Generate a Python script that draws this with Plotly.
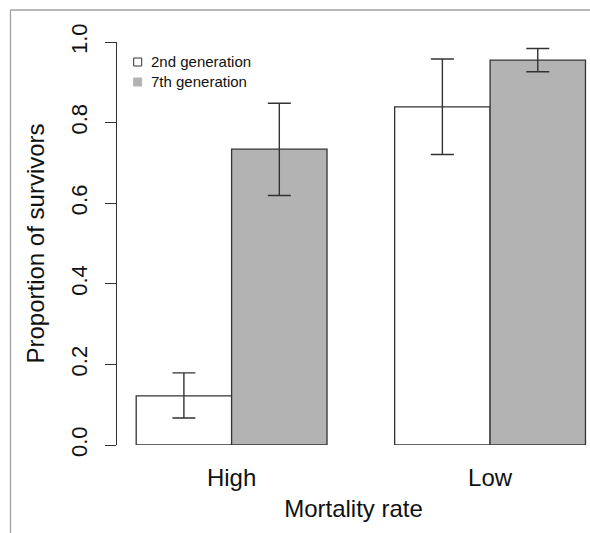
import plotly.graph_objects as go

categories = ["High", "Low"]
series_names = ["2nd generation", "7th generation"]
gen2_values = [0.122, 0.839]
gen2_upper = [0.179, 0.958]
gen2_lower = [0.067, 0.721]
gen7_values = [0.734, 0.955]
gen7_upper = [0.848, 0.984]
gen7_lower = [0.619, 0.926]
y_ticks = [0.0, 0.2, 0.4, 0.6, 0.8, 1.0]
y_ticktext = ["0.0", "0.2", "0.4", "0.6", "0.8", "1.0"]

W, H = 590, 533
L, R, T, B = 116.6, 0, 42, 88
FONT = "Liberation Sans, Arial, Helvetica, sans-serif"
INK = "#333333"
GRAY = "#b3b3b3"
fills = ["white", GRAY]
legend_lines = [INK, GRAY]

fig = go.Figure()

def add_series(name, vals, up, lo, fill):
    fig.add_trace(go.Bar(
        x=categories, y=vals, name=name, showlegend=False,
        marker=dict(color=fill, line=dict(color=INK, width=1.3)),
        error_y=dict(type="data", symmetric=False,
                     array=[u - v for u, v in zip(up, vals)],
                     arrayminus=[v - l for v, l in zip(vals, lo)],
                     color=INK, thickness=1.4, width=11.5),
        cliponaxis=False,
    ))

add_series(series_names[0], gen2_values, gen2_upper, gen2_lower, fills[0])
add_series(series_names[1], gen7_values, gen7_upper, gen7_lower, fills[1])

pw = W - L - R
ph = H - T - B
def px_x(p):
    return (p - L) / pw
def px_y(p):
    return (H - B - p) / ph

shapes = [
    dict(type="line", xref="paper", yref="paper", x0=px_x(10), x1=px_x(590),
         y0=px_y(10), y1=px_y(10), line=dict(color="#a0a0a0", width=1.3)),
    dict(type="line", xref="paper", yref="paper", x0=px_x(10), x1=px_x(10),
         y0=px_y(10), y1=px_y(533), line=dict(color="#a0a0a0", width=1.3)),
]
annotations = []
# manual R-style legend
for i, name in enumerate(series_names):
    cy = 62 + 20 * i
    shapes.append(dict(type="rect", xref="paper", yref="paper",
                       x0=px_x(133.3), x1=px_x(141.3), y0=px_y(cy - 4), y1=px_y(cy + 4),
                       fillcolor=fills[i], line=dict(color=legend_lines[i], width=1)))
    annotations.append(dict(xref="paper", yref="paper", x=px_x(148.5), y=px_y(cy - 0.5),
                            xanchor="left", yanchor="middle", text=name, showarrow=False,
                            font=dict(size=15, family=FONT, color="#111111")))

fig.update_layout(
    width=W, height=H,
    margin=dict(l=L, r=R, t=T, b=B, pad=0),
    paper_bgcolor="white", plot_bgcolor="white",
    font=dict(family=FONT, color="#111111"),
    barmode="group", bargap=0.2617, bargroupgap=0,
    showlegend=False,
    shapes=shapes, annotations=annotations,
    xaxis=dict(range=[-0.4434, 1.3866], showline=False, ticks="", showgrid=False,
               zeroline=False, tickfont=dict(size=24), ticklabelstandoff=16,
               title=dict(text="Mortality rate", font=dict(size=24), standoff=10)),
    yaxis=dict(range=[0, 1], tickvals=y_ticks, ticktext=y_ticktext,
               showline=True, linecolor=INK, linewidth=1.3,
               ticks="outside", ticklen=11, tickwidth=1.3, tickcolor=INK,
               tickangle=-90, tickfont=dict(size=22), showgrid=False, zeroline=False,
               ticklabelstandoff=9,
               title=dict(text="Proportion of survivors", font=dict(size=24), standoff=15)),
)

fig.write_html("out.html", config={"displayModeBar": False},
               post_script="document.body.style.margin='0';")
